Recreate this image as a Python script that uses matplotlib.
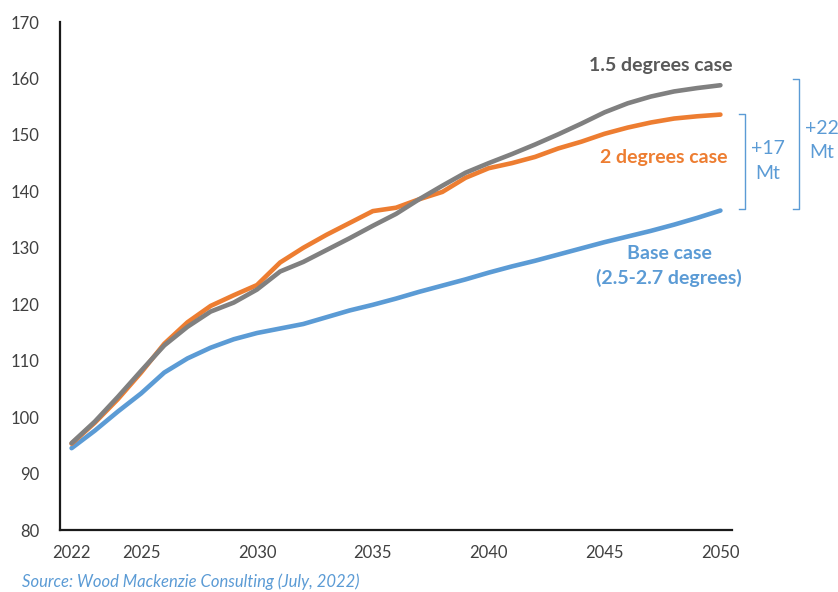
import numpy as np
import matplotlib
matplotlib.use('Agg')
import matplotlib.pyplot as plt

plt.rcParams['font.family'] = ['Lato', 'DejaVu Sans']

# years and the three scenarios (Mt)
years = list(range(2022, 2051))
case_15 = [95.4, 99.2, 103.6, 108.2, 112.7, 116.0, 118.7, 120.3, 122.6, 125.8,
           127.5, 129.6, 131.7, 133.9, 136.0, 138.6, 141.0, 143.3, 145.0, 146.6,
           148.3, 150.1, 152.0, 154.0, 155.6, 156.8, 157.7, 158.3, 158.8]
case_2 = [95.3, 99.0, 103.2, 107.9, 113.0, 116.8, 119.7, 121.6, 123.4, 127.4,
          130.0, 132.3, 134.4, 136.5, 137.1, 138.6, 139.9, 142.4, 144.1, 145.0,
          146.1, 147.6, 148.8, 150.2, 151.3, 152.2, 152.9, 153.3, 153.6]
base_case = [94.5, 97.6, 101.0, 104.2, 107.9, 110.4, 112.3, 113.8, 114.9, 115.7,
             116.5, 117.7, 118.9, 119.9, 121.0, 122.2, 123.3, 124.4, 125.6, 126.7,
             127.7, 128.8, 129.9, 131.0, 132.0, 133.0, 134.1, 135.3, 136.6]

x_ticks = [2022, 2025, 2030, 2035, 2040, 2045, 2050]
y_ticks = list(range(80, 171, 10))

grey = '#808080'
orange = '#ED7D31'
blue = '#5B9BD5'
txt = '#404040'

fig = plt.figure(figsize=(8.38, 5.92), dpi=100)
ax = fig.add_axes([0.0716, 0.1047, 0.8019, 0.8581])

ax.plot(years, base_case, color=blue, lw=3.3, solid_capstyle='round')
ax.plot(years, case_2, color=orange, lw=3.3, solid_capstyle='round')
ax.plot(years, case_15, color=grey, lw=3.3, solid_capstyle='round')

ax.set_xlim(2021.5, 2050.5)
ax.set_ylim(80, 170)
ax.set_xticks(x_ticks)
ax.set_yticks(y_ticks)
ax.tick_params(length=0, labelsize=12, colors=txt)
ax.tick_params(axis='y', pad=15)
ax.tick_params(axis='x', pad=11)
for s in ['top', 'right']:
    ax.spines[s].set_visible(False)
for s in ['left', 'bottom']:
    ax.spines[s].set_linewidth(1.6)
    ax.spines[s].set_color('#1a1a1a')

# series labels
fig.text(661/838, 1 - 66/592, '1.5 degrees case', color='#595959', fontsize=14,
         fontweight='bold', ha='center', va='center')
fig.text(664/838, 1 - 158/592, '2 degrees case', color=orange, fontsize=14,
         fontweight='bold', ha='center', va='center')
fig.text(669/838, 1 - 266/592, 'Base case\n(2.5-2.7 degrees)', color=blue, fontsize=14,
         fontweight='bold', ha='center', va='center', linespacing=1.4)

# difference brackets
def bracket(x, x_tick, y0, y1):
    xs = [x_tick/838, x/838, x/838, x_tick/838]
    ys = [1 - y0/592, 1 - y0/592, 1 - y1/592, 1 - y1/592]
    fig.add_artist(plt.Line2D(xs, ys, color=blue, lw=1.0, transform=fig.transFigure))

bracket(745, 739, 114, 209)
bracket(799, 793, 79, 209)
fig.text(768/838, 1 - 161/592, '+17\nMt', color=blue, fontsize=14,
         ha='center', va='center', linespacing=1.55)
fig.text(822/838, 1 - 140/592, '+22\nMt', color=blue, fontsize=14,
         ha='center', va='center', linespacing=1.5)

fig.text(22/838, 1 - 582/592, 'Source: Wood Mackenzie Consulting (July, 2022)',
         color='#5B9BD5', fontsize=12, fontstyle='italic', ha='left', va='center')

fig.savefig('out.png', dpi=100)
